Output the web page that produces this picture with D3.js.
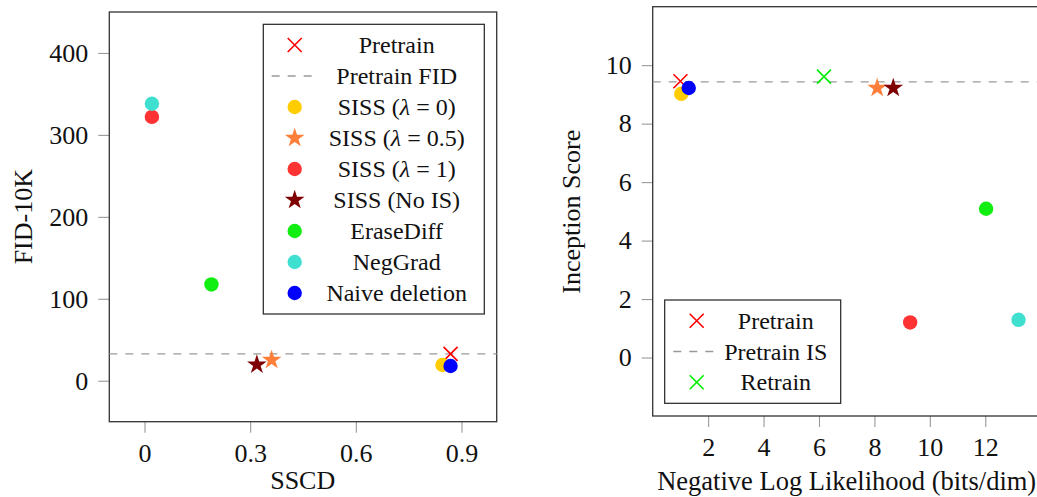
<!DOCTYPE html>
<html lang="en">
<head>
<meta charset="UTF-8">
<title>SISS scatter</title>
<script src="https://d3js.org/d3.v7.min.js"></script>
<style>
  body { margin: 0; background: #fff; }
  text { font-family: "Liberation Serif", "DejaVu Serif", serif; fill: #111; }
</style>
</head>
<body>
<svg width="1037" height="497" class="chart"></svg>
<script>
// methods shown in both panels
var methods = ["SISS (λ = 0)", "SISS (λ = 0.5)", "SISS (λ = 1)", "SISS (No IS)", "EraseDiff", "NegGrad", "Naive deletion"];
var colors  = ["#ffcc00", "#ff7f3a", "#ff3333", "#7f0000", "#11ee11", "#40e0d0", "#0000ff"];
var shapes  = ["circle", "star", "circle", "star", "circle", "circle", "circle"];

// left panel: SSCD vs FID-10K
var sscd = [0.846, 0.361, 0.021, 0.319, 0.19, 0.021, 0.869];
var fid  = [19.2, 25.3, 322, 19.6, 117.5, 338, 18];
var pretrainSSCD = 0.869, pretrainFID = 32.7;

// right panel: NLL vs Inception Score
var nll = [1.03, 8.1, 9.29, 8.68, 12.03, 13.2, 1.3];
var isc = [9.02, 9.22, 1.2, 9.22, 5.09, 1.29, 9.22];
var pretrainNLL = 1.0, pretrainIS = 9.45, pretrainISline = 9.43;
var retrainNLL = 6.18, retrainIS = 9.61;

var xTicksL = [0, 0.3, 0.6, 0.9], yTicksL = [0, 100, 200, 300, 400];
var xTicksR = [2, 4, 6, 8, 10, 12], yTicksR = [0, 2, 4, 6, 8, 10];

var svg = d3.select('.chart');

// scales
var xL = d3.scaleLinear().domain([-0.1, 1.0]).range([109.3, 496.7]);
var yL = d3.scaleLinear().domain([-50, 450]).range([421.7, 12]);
var xR = d3.scaleLinear().domain([0, 14]).range([652.7, 1040.7]);
var yR = d3.scaleLinear().domain([-2, 12]).range([416, 6.7]);

function star(size) { return d3.symbol().type(d3.symbolStar).size(size)(); }
function cross(g, cx, cy, col) {
  var r = 7;
  g.append('path')
    .attr('d', 'M' + (cx - r) + ',' + (cy - r) + 'L' + (cx + r) + ',' + (cy + r) +
               'M' + (cx - r) + ',' + (cy + r) + 'L' + (cx + r) + ',' + (cy - r))
    .attr('stroke', col).attr('stroke-width', 1.6).attr('fill', 'none');
}
function marker(g, shape, col, cx, cy) {
  if (shape === 'circle') {
    g.append('circle').attr('cx', cx).attr('cy', cy).attr('r', 7.2).attr('fill', col);
  } else {
    g.append('path').attr('d', star(120))
      .attr('transform', 'translate(' + cx + ',' + cy + ')')
      .attr('fill', col);
  }
}
// text with italic lambda
function label(g, str, x, y) {
  var t = g.append('text').attr('x', x).attr('y', y)
    .attr('text-anchor', 'middle').attr('font-size', 24).attr('dominant-baseline', 'central');
  var parts = str.split('λ');
  t.append('tspan').text(parts[0]);
  if (parts.length > 1) {
    t.append('tspan').attr('font-style', 'italic').text('λ');
    t.append('tspan').text(parts[1]);
  }
}

function panel(x, y, xt, yt, fmt) {
  var g = svg.append('g');
  var xa = d3.axisBottom(x).tickValues(xt).tickSize(11).tickPadding(11).tickFormat(fmt);
  var ya = d3.axisLeft(y).tickValues(yt).tickSize(11).tickPadding(10);
  var gx = g.append('g').attr('transform', 'translate(0,' + y.range()[0] + ')').call(xa);
  var gy = g.append('g').attr('transform', 'translate(' + x.range()[0] + ',0)').call(ya);
  [gx, gy].forEach(function (a) {
    a.select('.domain').remove();
    a.selectAll('line').attr('stroke', '#999').attr('stroke-width', 1.1);
    a.selectAll('text').attr('font-size', 26).attr('font-family', '"Liberation Serif", serif').attr('fill', '#111');
  });
  g.append('rect')
    .attr('x', x.range()[0]).attr('y', y.range()[1])
    .attr('width', x.range()[1] - x.range()[0]).attr('height', y.range()[0] - y.range()[1])
    .attr('fill', 'none').attr('stroke', '#333').attr('stroke-width', 1.3);
  return g;
}

// ---- left panel
var gL = panel(xL, yL, xTicksL, yTicksL, d3.format(''));
gL.append('line')
  .attr('x1', xL.range()[0]).attr('x2', xL.range()[1])
  .attr('y1', yL(pretrainFID)).attr('y2', yL(pretrainFID))
  .attr('stroke', '#999').attr('stroke-width', 1.3).attr('stroke-dasharray', '8,8');
cross(gL, xL(pretrainSSCD), yL(pretrainFID), '#ff0000');
methods.forEach(function (m, i) { marker(gL, shapes[i], colors[i], xL(sscd[i]), yL(fid[i])); });

svg.append('text').attr('x', 302.7).attr('y', 489).attr('text-anchor', 'middle')
  .attr('font-size', 26).text('SSCD');
svg.append('text').attr('transform', 'translate(31.5,216.7) rotate(-90)').attr('text-anchor', 'middle')
  .attr('font-size', 26).text('FID-10K');

// left legend
var lgL = svg.append('g');
lgL.append('rect').attr('x', 263.3).attr('y', 24.3).attr('width', 221).attr('height', 289.7)
  .attr('fill', '#fff').attr('stroke', '#222').attr('stroke-width', 1.2);
var rowY = d3.scaleLinear().domain([0, 8]).range([45, 293]);
cross(lgL, 294.7, rowY(0), '#ff0000');
label(lgL, 'Pretrain', 396.7, rowY(0));
lgL.append('line').attr('x1', 271.7).attr('x2', 313).attr('y1', rowY(1)).attr('y2', rowY(1))
  .attr('stroke', '#999').attr('stroke-width', 1.3).attr('stroke-dasharray', '8,8');
label(lgL, 'Pretrain FID', 396.7, rowY(1));
methods.forEach(function (m, i) {
  marker(lgL, shapes[i], colors[i], 294.7, rowY(i + 2));
  label(lgL, m, 396.7, rowY(i + 2));
});

// ---- right panel
var gR = panel(xR, yR, xTicksR, yTicksR, d3.format(''));
gR.append('line')
  .attr('x1', xR.range()[0]).attr('x2', xR.range()[1])
  .attr('y1', yR(pretrainISline)).attr('y2', yR(pretrainISline))
  .attr('stroke', '#999').attr('stroke-width', 1.3).attr('stroke-dasharray', '8,8');
cross(gR, xR(pretrainNLL), yR(pretrainIS), '#ff0000');
cross(gR, xR(retrainNLL), yR(retrainIS), '#00ee00');
methods.forEach(function (m, i) { marker(gR, shapes[i], colors[i], xR(nll[i]), yR(isc[i])); });

svg.append('text').attr('x', 846.7).attr('y', 489.5).attr('text-anchor', 'middle')
  .attr('font-size', 26.5).text('Negative Log Likelihood (bits/dim)');
svg.append('text').attr('transform', 'translate(580,211.7) rotate(-90)').attr('text-anchor', 'middle')
  .attr('font-size', 26).text('Inception Score');

// right legend
var lgR = svg.append('g');
lgR.append('rect').attr('x', 664.7).attr('y', 300).attr('width', 176).attr('height', 103.3)
  .attr('fill', '#fff').attr('stroke', '#222').attr('stroke-width', 1.2);
var rowR = d3.scaleLinear().domain([0, 2]).range([320.7, 382.3]);
cross(lgR, 696.7, rowR(0), '#ff0000');
label(lgR, 'Pretrain', 775.8, rowR(0));
lgR.append('line').attr('x1', 673.3).attr('x2', 714).attr('y1', rowR(1)).attr('y2', rowR(1))
  .attr('stroke', '#999').attr('stroke-width', 1.3).attr('stroke-dasharray', '8,8');
label(lgR, 'Pretrain IS', 775.8, rowR(1));
cross(lgR, 696.7, rowR(2), '#00ee00');
label(lgR, 'Retrain', 775.8, rowR(2));
</script>
</body>
</html>
